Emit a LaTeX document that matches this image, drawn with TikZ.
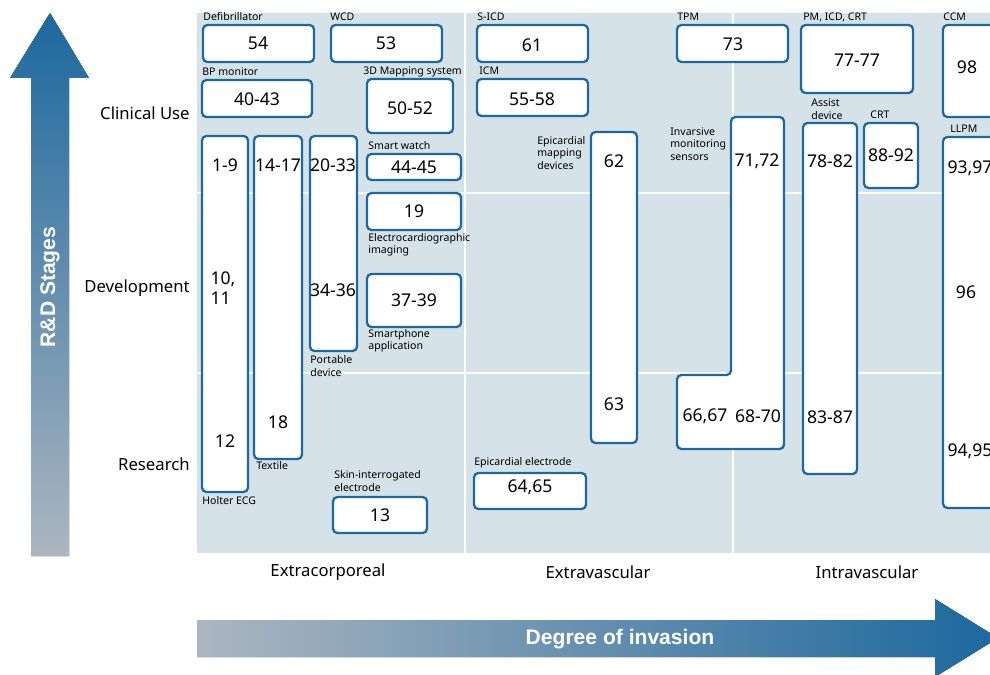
\documentclass[tikz,border=0pt]{standalone}
\usepackage{fontspec}
\setmainfont{Noto Sans}
\newfontfamily\headfont{Liberation Sans}
\usepackage{tikz}
\usetikzlibrary{positioning}
\definecolor{panelgray}{RGB}{213, 227, 233}
\definecolor{boxblue}{RGB}{30, 104, 160}
\definecolor{arrowblue}{RGB}{28, 104, 158}
\definecolor{arrowgray}{RGB}{172, 182, 192}

\begin{document}
\begin{tikzpicture}[x=0.02cm, y=-0.02cm,
    dev/.style={draw=boxblue, line width=1.3pt, rounded corners=2.5pt, fill=white},
    num/.style={font=\fontsize{10}{11.5}\selectfont, inner sep=0pt},
    tag/.style={font=\fontsize{6}{7.1}\selectfont, align=left, anchor=west, inner sep=0pt},
    stage/.style={font=\fontsize{9.5}{11}\selectfont, inner sep=0pt},
    gridline/.style={white, line width=0.9pt},
    axislabel/.style={white, font=\headfont\bfseries\fontsize{12}{14}\selectfont}]

  \useasboundingbox (0,0) rectangle (990,675);
  \clip (0,0) rectangle (990,675);

  % Panel and grid
  \fill[panelgray] (197,13) rectangle (1000,553);
  \foreach \x in {465, 733}{
    \draw[gridline] (\x,13) -- (\x,553);
  }
  \foreach \y in {193, 373}{
    \draw[gridline] (197,\y) -- (1000,\y);
  }

  % Device boxes
  \foreach \xa/\ya/\xb/\yb in {203/25/314/62, 331/25/442/62, 202/80/312/117, 367/79/453/133,
      202/136/248/492, 254/136/302/459, 310/136/357/351, 367/154/461/180, 367/193/461/230,
      367/274/461/327, 333/497/427/533,
      477/25/588/62, 477/79/588/116, 591/132/637/443, 474/473/586/509,
      677/25/788/62, 801/25/913/93, 943/25/997/117, 803/123/857/474, 864/123/918/188,
      943/137/997/508}{
    \draw[dev] (\xa,\ya) rectangle (\xb,\yb);
  }
  % L-shaped box
  \draw[dev] (731,117) -- (784,117) -- (784,449) -- (677,449) -- (677,375) -- (731,375) -- cycle;

  % Reference numbers
  \foreach \x/\y/\t [count=\i] in {258/43/54, 386/43/53, 257/99/40-43, 410/108/50-52,
      225/165/1-9, 278/165/14-17, 333/165/20-33, 414/167/44-45, 414/211/19,
      333/290/34-36, 414/300/37-39, 225/441/12, 278/422/18, 380/515/13,
      532/45/61, 532/99/55-58, 614/161/62, 614/404/63, {530/487/64,65},
      733/44/73, {757/161/71,72}, {705/416/66,67}, 758/416/68-70,
      857/60/77-77, 967/67/98, 830/161/78-82, 891/155/88-92, 830/417/83-87,
      {970/168/93,97}, 966/292/96, {970/451/94,95}}{
    \node[num] (n\i) at (\x,\y) {\t};
  }
  \node[num, align=left] (n10) at (223,288) {10,\\11};

  % Device labels
  \foreach \x/\y/\t [count=\i] in {203/17/Defibrillator, 330/17/WCD, 202/72/BP monitor,
      363/72/3D Mapping system, 368/146/Smart watch, 368/245/Electrocardiographic\\imaging,
      368/341/Smartphone\\application, 310/366/Portable\\device, 256/466/Textile,
      202/501/Holter ECG, 334/481/Skin-interrogated\\electrode,
      477/17/S-ICD, 479/71/ICM, 537/153/Epicardial\\mapping\\devices,
      670/144/Invarsive\\monitoring\\sensors, 677/17/TPM, 474/463/Epicardial electrode,
      {803/17/PM, ICD, CRT}, 943/17/CCM, 811/109/Assist\\device, 870/115/CRT, 950/129/LLPM}{
    \node[tag] (t\i) at (\x,\y) {\t};
  }

  % Stage labels
  \node[stage, anchor=east] (clin) at (190,113) {Clinical Use};
  \node[stage, anchor=east] (devel) at (190,288) {Development};
  \node[stage, anchor=east] (res) at (190,464) {Research};

  \node[stage] (extracorp) at (328,572) {Extracorporeal};
  \node[stage] (extravasc) at (598,572) {Extravascular};
  \node[stage] (intravasc) at (867,572) {Intravascular};

  % Axis arrows
  \fill[top color=arrowblue, bottom color=arrowgray]
    (31,556) -- (31,78) -- (10,78) -- (50,13) -- (89,78) -- (69,78) -- (69,556) -- cycle;
  \node[axislabel, rotate=90] (rd) at (50,287) {R\&D Stages};

  \fill[left color=arrowgray, right color=arrowblue]
    (197,620) -- (935,620) -- (935,599) -- (998,638) -- (935,677) -- (935,657) -- (197,657) -- cycle;
  \node[axislabel] (inv) at (620,639) {Degree of invasion};
\end{tikzpicture}
\end{document}
